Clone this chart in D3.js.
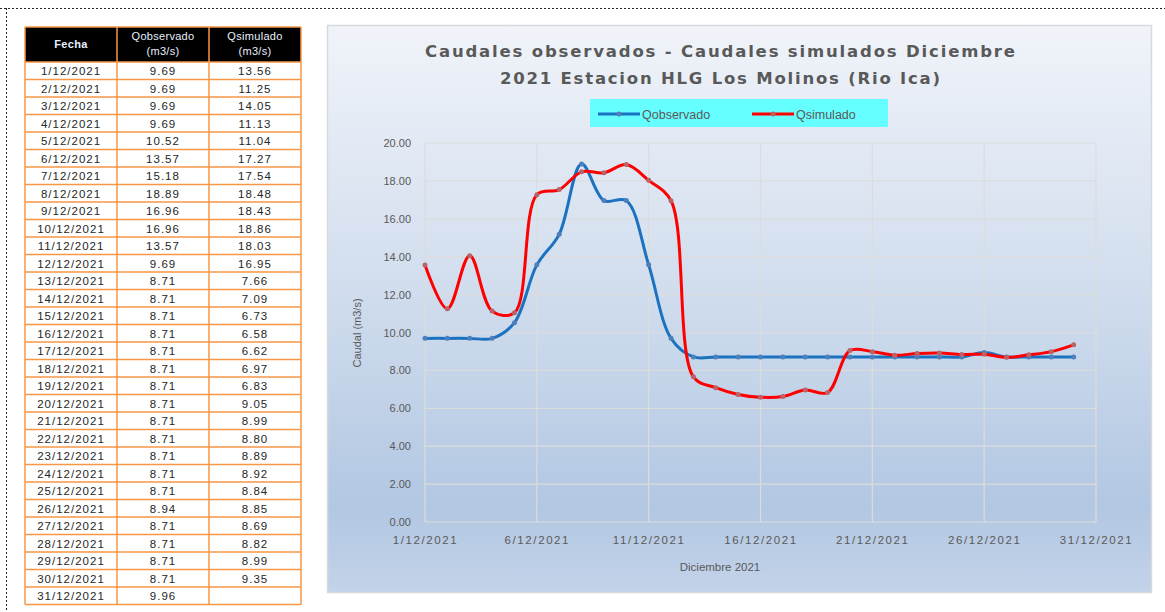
<!DOCTYPE html>
<html>
<head>
<meta charset="utf-8">
<script src="https://cdn.jsdelivr.net/npm/d3@7"></script>
<style>
  html, body { margin: 0; padding: 0; background: #fff; }
  svg { display: block; }
</style>
</head>
<body>
<div id="container"></div>
<script>
var fechas = ["1/12/2021","2/12/2021","3/12/2021","4/12/2021","5/12/2021","6/12/2021","7/12/2021",
	"8/12/2021","9/12/2021","10/12/2021","11/12/2021","12/12/2021","13/12/2021","14/12/2021",
	"15/12/2021","16/12/2021","17/12/2021","18/12/2021","19/12/2021","20/12/2021","21/12/2021",
	"22/12/2021","23/12/2021","24/12/2021","25/12/2021","26/12/2021","27/12/2021","28/12/2021",
	"29/12/2021","30/12/2021","31/12/2021"];
var dias = [1,2,3,4,5,6,7,8,9,10,11,12,13,14,15,16,17,18,19,20,21,22,23,24,25,26,27,28,29,30,31];
var qObservado = [9.69,9.69,9.69,9.69,10.52,13.57,15.18,18.89,16.96,16.96,13.57,9.69,8.71,8.71,
	8.71,8.71,8.71,8.71,8.71,8.71,8.71,8.71,8.71,8.71,8.71,8.94,8.71,8.71,8.71,8.71,9.96];
var qSimulado = [13.56,11.25,14.05,11.13,11.04,17.27,17.54,18.48,18.43,18.86,18.03,16.95,7.66,7.09,
	6.73,6.58,6.62,6.97,6.83,9.05,8.99,8.80,8.89,8.92,8.84,8.85,8.69,8.82,8.99,9.35,null];
var xTickDias = [1,6,11,16,21,26,31];
var xTickLabels = ["1/12/2021","6/12/2021","11/12/2021","16/12/2021","21/12/2021","26/12/2021","31/12/2021"];
var yTicks = [0,2,4,6,8,10,12,14,16,18,20];
var diasGrafico = 30;   // the chart only plots 1..30

var W = 1165, H = 612;
var svg = d3.select("#container").append("svg").attr("width", W).attr("height", H);

// dotted page border
svg.append("line").attr("x1", 0).attr("x2", W).attr("y1", 8.5).attr("y2", 8.5)
	.attr("stroke", "#222").attr("stroke-dasharray", "2,2");
svg.append("line").attr("x1", 6.5).attr("x2", 6.5).attr("y1", 8).attr("y2", H)
	.attr("stroke", "#222").attr("stroke-dasharray", "2,2");

// ---------- table ----------
var colX = [25, 117, 209, 301];
var headTop = 27, headH = 35, rowH = 17.5;
var orange = "#f79646";
var tbl = svg.append("g");

tbl.append("rect").attr("x", colX[0]).attr("y", headTop)
	.attr("width", colX[3] - colX[0]).attr("height", headH).attr("fill", "#000");

var headers = [["Fecha"], ["Qobservado", "(m3/s)"], ["Qsimulado", "(m3/s)"]];
headers.forEach(function(h, c) {
	var cx = (colX[c] + colX[c + 1]) / 2;
	h.forEach(function(t, j) {
		tbl.append("text").text(t)
			.attr("x", cx)
			.attr("y", h.length == 1 ? headTop + 21 : headTop + 13 + j * 15)
			.attr("text-anchor", "middle")
			.style("font-family", "Liberation Sans, Arial, sans-serif")
			.style("font-size", "11px")
			.style("font-weight", c == 0 ? "bold" : "normal")
			.style("letter-spacing", "0.3px")
			.style("fill", "#e8f0ff");
	});
});

var rows = tbl.selectAll("g.row").data(fechas).enter().append("g").attr("class", "row");
rows.append("rect")
	.attr("x", colX[0]).attr("width", colX[3] - colX[0])
	.attr("y", function(d, i) { return headTop + headH + i * rowH; })
	.attr("height", rowH).attr("fill", "#fff");

function cellText(col, fn) {
	rows.append("text")
		.text(fn)
		.attr("x", (colX[col] + colX[col + 1]) / 2)
		.attr("y", function(d, i) { return headTop + headH + i * rowH + 13; })
		.attr("text-anchor", "middle")
		.style("font-family", "Liberation Sans, Arial, sans-serif")
		.style("font-size", "11.5px")
		.style("letter-spacing", "1px")
		.style("fill", "#262626");
}
cellText(0, function(d) { return d; });
cellText(1, function(d, i) { return qObservado[i] == null ? "" : qObservado[i].toFixed(2); });
cellText(2, function(d, i) { return qSimulado[i] == null ? "" : qSimulado[i].toFixed(2); });

// grid of the table
var tBottom = headTop + headH + fechas.length * rowH;
colX.forEach(function(x) {
	tbl.append("line").attr("x1", x).attr("x2", x).attr("y1", headTop).attr("y2", tBottom)
		.attr("stroke", orange).attr("stroke-width", 1.5);
});
d3.range(fechas.length + 2).forEach(function(i) {
	var y = i == 0 ? headTop : headTop + headH + (i - 1) * rowH;
	tbl.append("line").attr("x1", colX[0]).attr("x2", colX[3]).attr("y1", y).attr("y2", y)
		.attr("stroke", orange).attr("stroke-width", 1.5);
});

// ---------- chart ----------
var defs = svg.append("defs");
var grad = defs.append("linearGradient").attr("id", "bg").attr("x1", 0).attr("x2", 0).attr("y1", 0).attr("y2", 1);
grad.append("stop").attr("offset", "0%").attr("stop-color", "#f0f3f9");
grad.append("stop").attr("offset", "45%").attr("stop-color", "#d2deee");
grad.append("stop").attr("offset", "85%").attr("stop-color", "#b2c7e2");
grad.append("stop").attr("offset", "100%").attr("stop-color", "#c3d3e9");

svg.append("rect").attr("x", 327.5).attr("y", 25.5).attr("width", 824).attr("height", 567)
	.attr("fill", "url(#bg)").attr("stroke", "#d6d9de").attr("stroke-width", 1.5);

var x = d3.scaleLinear().domain([1, 31]).range([425, 1096]);
var y = d3.scaleLinear().domain([0, 20]).range([522, 143]);

var grid = svg.append("g");
yTicks.forEach(function(t) {
	grid.append("line").attr("x1", x(1)).attr("x2", x(31)).attr("y1", y(t)).attr("y2", y(t))
		.attr("stroke", "#dcdcdc").attr("stroke-width", 1.2);
});
xTickDias.forEach(function(t) {
	grid.append("line").attr("x1", x(t)).attr("x2", x(t)).attr("y1", y(0)).attr("y2", y(20))
		.attr("stroke", "#dcdcdc").attr("stroke-width", 1.2);
});

var tickFont = "Liberation Sans, Arial, sans-serif";
var yAxis = svg.append("g").attr("transform", "translate(" + x(1) + ",0)")
	.call(d3.axisLeft(y).tickValues(yTicks).tickSize(0).tickPadding(14).tickFormat(d3.format(".2f")));
yAxis.select(".domain").remove();
yAxis.selectAll("text").style("font-family", tickFont).style("font-size", "11px")
	.style("fill", "#595959");

var xAxis = svg.append("g").attr("transform", "translate(0," + y(0) + ")")
	.call(d3.axisBottom(x).tickValues(xTickDias).tickSize(0).tickPadding(14)
		.tickFormat(function(d, i) { return xTickLabels[i]; }));
xAxis.select(".domain").remove();
xAxis.selectAll("text").style("font-family", tickFont).style("font-size", "11.5px")
	.style("letter-spacing", "1.6px").style("fill", "#595959");

svg.append("text").text("Diciembre 2021")
	.attr("x", 720).attr("y", 571).attr("text-anchor", "middle")
	.style("font-family", tickFont).style("font-size", "11.5px").style("fill", "#595959");

svg.append("text").text("Caudal (m3/s)")
	.attr("transform", "translate(361,333) rotate(-90)").attr("text-anchor", "middle")
	.style("font-family", tickFont).style("font-size", "11px").style("fill", "#595959");

// title
var titulo = ["Caudales observados - Caudales simulados Diciembre", "2021 Estacion HLG Los Molinos (Rio Ica)"];
var tituloAncho = [590, 440];
titulo.forEach(function(t, i) {
	svg.append("text").text(t)
		.attr("x", 720 - tituloAncho[i] / 2).attr("y", 57 + i * 27)
		.attr("textLength", tituloAncho[i]).attr("lengthAdjust", "spacing")
		.style("font-family", "DejaVu Sans, sans-serif").style("font-size", "16.5px").style("font-weight", "bold")
		.style("fill", "#595959");
});

// series
var series = [
	{ name: "Qobservado", values: qObservado, color: "#1b72c0", marker: "#4f7fb8" },
	{ name: "Qsimulado", values: qSimulado, color: "#ff0000", marker: "#b8626a" }
];
var line = d3.line()
	.x(function(d) { return x(d.dia); })
	.y(function(d) { return y(d.v); })
	.curve(d3.curveCatmullRom.alpha(0.5));

series.forEach(function(s) {
	var pts = dias.slice(0, diasGrafico).map(function(d, i) { return { dia: d, v: s.values[i] }; });
	svg.append("path").datum(pts).attr("d", line)
		.attr("fill", "none").attr("stroke", s.color).attr("stroke-width", 3)
		.attr("stroke-linejoin", "round");
	svg.append("g").selectAll("circle").data(pts).enter().append("circle")
		.attr("cx", function(d) { return x(d.dia); })
		.attr("cy", function(d) { return y(d.v); })
		.attr("r", 2.5).attr("fill", s.marker);
});

// legend
var leg = svg.append("g");
leg.append("rect").attr("x", 590).attr("y", 99).attr("width", 298).attr("height", 28).attr("fill", "#66ffff");
var legX = [598, 752];
series.forEach(function(s, i) {
	leg.append("line").attr("x1", legX[i]).attr("x2", legX[i] + 42).attr("y1", 114).attr("y2", 114)
		.attr("stroke", s.color).attr("stroke-width", 3);
	leg.append("circle").attr("cx", legX[i] + 21).attr("cy", 114).attr("r", 2.5).attr("fill", s.marker);
	leg.append("text").text(s.name).attr("x", legX[i] + 44).attr("y", 118.5)
		.style("font-family", tickFont).style("font-size", "12.5px").style("fill", "#595959");
});
</script>
</body>
</html>
